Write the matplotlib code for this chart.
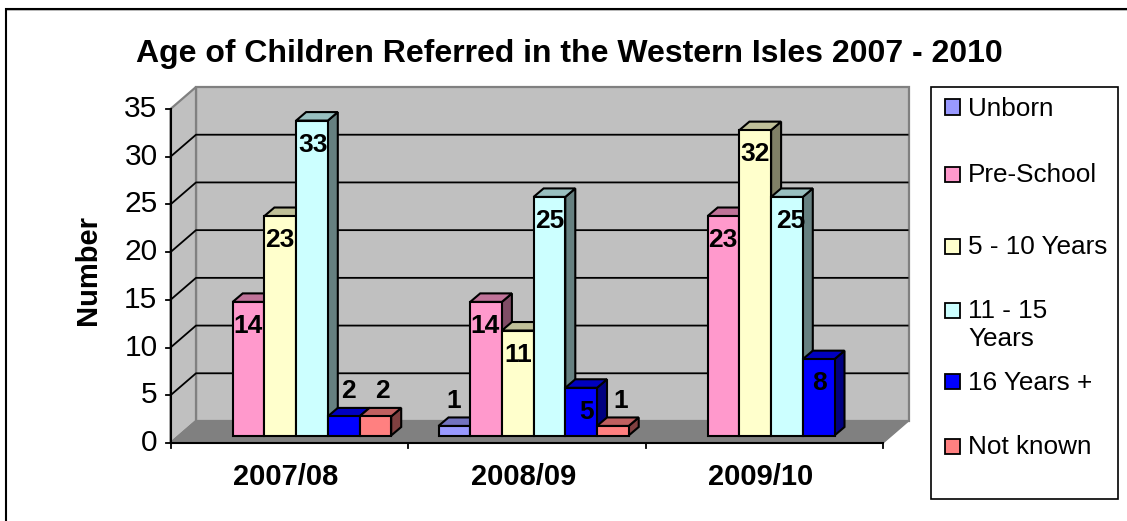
import matplotlib
matplotlib.use("Agg")
import matplotlib.pyplot as plt
from matplotlib.patches import Polygon, Rectangle

plt.rcParams['font.family'] = ['Liberation Sans', 'DejaVu Sans']

years = ['2007/08', '2008/09', '2009/10']
title = 'Age of Children Referred in the Western Isles 2007 - 2010'
series = ['Unborn', 'Pre-School', '5 - 10 Years', '11 - 15\nYears', '16 Years +', 'Not known']
unborn = [None, 1, None]
pre_school = [14, 14, 23]
five_ten = [23, 11, 32]
eleven_fifteen = [33, 25, 25]
sixteen_plus = [2, 5, 8]
not_known = [2, 1, None]
values = [unborn, pre_school, five_ten, eleven_fifteen, sixteen_plus, not_known]
yticks = [0, 5, 10, 15, 20, 25, 30, 35]

front = ['#9999FF', '#FF99CC', '#FFFFCC', '#CCFFFF', '#0000FF', '#FF8080']
top = ['#7373C0', '#C07399', '#C0C099', '#99C0C0', '#0000C0', '#C06060']
side = ['#4D4D80', '#804D66', '#808066', '#668080', '#000080', '#804040']

W, H = 1127, 521
fig = plt.figure(figsize=(W / 100, H / 100), dpi=100, facecolor='white')

# pixel layout
L, R, T, B = 170.5, 883.0, 109.0, 443.0
ax = fig.add_axes([L / W, 1 - B / H, (R - L) / W, (B - T) / H])
ax.set_xlim(0, 3)
ax.set_ylim(0, 35)
ax.axis('off')
px_x = (R - L) / 3
px_y = (B - T) / 35


def dx(p):
    return p / px_x


def dy(p):
    return p / px_y


wall_dx, wall_dy = dx(25.5), dy(22)
# outer frame (runs off the image at the right and bottom) and legend box
fig.add_artist(Rectangle((6 / W, 1 - 10.5 / H), (W - 6) / W, 1 / H, transform=fig.transFigure,
                         fc='#C0C0C0', ec='none', zorder=-6))
fig.add_artist(plt.Line2D([6 / W, 6 / W, 1.0], [0.0, 1 - 9 / H, 1 - 9 / H], transform=fig.transFigure,
                          color='black', lw=1.5, zorder=-5, solid_joinstyle='miter'))
fig.add_artist(Rectangle((930.5 / W, 1 - 499 / H), 187.5 / W, 412 / H, transform=fig.transFigure,
                         fc='white', ec='black', lw=1.2, zorder=-4))

GREY = '#808080'
ax.add_patch(Polygon([(wall_dx, wall_dy), (3 + wall_dx, wall_dy), (3 + wall_dx, 35 + wall_dy), (wall_dx, 35 + wall_dy)],
                     fc='#C0C0C0', ec=GREY, lw=1.6, clip_on=False, zorder=1))
ax.add_patch(Polygon([(0, 0), (wall_dx, wall_dy), (wall_dx, 35 + wall_dy), (0, 35)],
                     fc='#C0C0C0', ec=GREY, lw=1.6, clip_on=False, zorder=1))
ax.add_patch(Polygon([(0, 0), (3, 0), (3 + wall_dx, wall_dy), (wall_dx, wall_dy)],
                     fc=GREY, ec=GREY, lw=1, clip_on=False, zorder=1.1))

for v in yticks[1:-1]:
    ax.plot([0, wall_dx, 3 + wall_dx], [v, v + wall_dy, v + wall_dy], color='black', lw=1.3,
            clip_on=False, zorder=1.5, solid_capstyle='butt')
ax.plot([0, wall_dx], [0, wall_dy], color=GREY, lw=1.3, clip_on=False, zorder=1.5)
# axis lines and ticks
ax.plot([0, 0], [0, 35], color='black', lw=1.5, clip_on=False, zorder=2)
ax.plot([0, 3], [0, 0], color='black', lw=1.5, clip_on=False, zorder=2)
for v in yticks:
    ax.plot([0, -dx(5)], [v, v], color='black', lw=1.3, clip_on=False, zorder=2)
    ax.text(-dx(13), v, str(v), ha='right', va='center', fontsize=21.5, zorder=5)
for g in range(4):
    ax.plot([g, g], [0, -dy(5)], color='black', lw=1.3, clip_on=False, zorder=2)
for g, lab in enumerate(years):
    ax.text(g + 0.5 - dx(3.5), -dy(34), lab, ha='center', va='center', fontsize=21, fontweight='bold', zorder=5)

# bars
bar_w = 31.7 / px_x
bar_x0 = 30.5 / px_x
bar_dy0 = dy(7.5)
bar_dx, bar_dpy = dx(10), dy(8.5)
label_nudge = {(0, 3): 1, (1, 3): 0, (2, 3): 4, (0, 4): 5, (1, 4): 5, (2, 4): 1, (0, 5): 7, (1, 5): 8, (1, 0): -1,
               (0, 1): -1, (1, 1): -1, (2, 1): -1}
z = 3.0
for g in range(3):
    for i, vals in enumerate(values):
        v = vals[g]
        if v is None:
            continue
        x0 = g + bar_x0 + i * bar_w
        x1 = x0 + bar_w
        y0 = bar_dy0
        y1 = v + bar_dy0
        kw = dict(ec='black', lw=1.5, clip_on=False, joinstyle='miter', zorder=z)
        ax.add_patch(Polygon([(x1, y0), (x1 + bar_dx, y0 + bar_dpy), (x1 + bar_dx, y1 + bar_dpy), (x1, y1)],
                             fc=side[i], **kw))
        ax.add_patch(Polygon([(x0, y1), (x1, y1), (x1 + bar_dx, y1 + bar_dpy), (x0 + bar_dx, y1 + bar_dpy)],
                             fc=top[i], **kw))
        ax.add_patch(Polygon([(x0, y0), (x1, y0), (x1, y1), (x0, y1)], fc=front[i], **kw))
        z += 0.01
        ly = y1 + dy(25) if v <= 2 else y1 - dy(24)
        ax.text((x0 + x1) / 2 + dx(label_nudge.get((g, i), 0)), ly, str(v), ha='center', va='center',
                fontsize=19, fontweight='bold', zorder=10)

ax.text(-dx(83), 17.5 + dy(6), 'Number', rotation=90, ha='center', va='center', fontsize=21, fontweight='bold')
fig.text(569 / W, 1 - 54 / H, title, ha='center', va='center', fontsize=23, fontweight='bold')

# legend
legend_y = [107, 174, 246, 310, 381, 446]
for name, fc, y in zip(series, front, legend_y):
    fig.add_artist(Rectangle((944.5 / W, 1 - (y + 7.5) / H), 15 / W, 15 / H, transform=fig.transFigure,
                             fc=fc, ec='black', lw=1.3))
    fig.text(968 / W, 1 - (y - 10.5) / H, name, ha='left', va='top', fontsize=18.8, linespacing=1.2)

fig.savefig('out.png', dpi=100, facecolor='white')
